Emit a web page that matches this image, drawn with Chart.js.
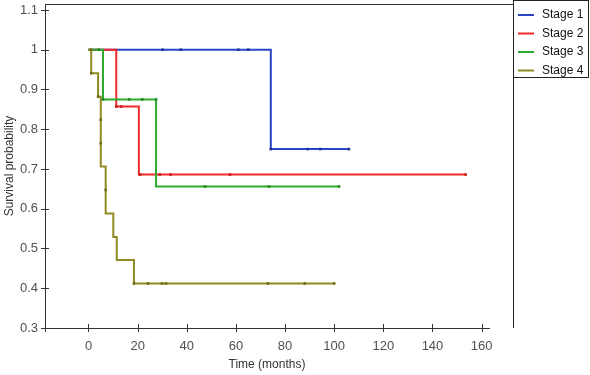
<!DOCTYPE html>
<html>
<head>
<meta charset="utf-8">
<script src="https://cdn.jsdelivr.net/npm/chart.js@4.4.1/dist/chart.umd.min.js"></script>
<style>
  html, body { margin: 0; padding: 0; background: #fff; }
  #wrap { width: 590px; height: 375px; }
</style>
</head>
<body>
<div id="wrap"><canvas id="km"></canvas></div>
<script>
// Kaplan-Meier step points (time in months, survival probability)
const stage1Time = [0, 74.2, 106];
const stage1Surv = [1, 0.75, 0.75];
const stage2Time = [0, 11.3, 20.5, 153.5];
const stage2Surv = [1, 0.857, 0.686, 0.686];
const stage3Time = [0, 5.9, 27.5, 102];
const stage3Surv = [1, 0.875, 0.656, 0.656];
const stage4Time = [0, 1.1, 3.9, 5.0, 7.0, 10.1, 11.5, 18.5, 100];
const stage4Surv = [1, 0.941, 0.882, 0.706, 0.588, 0.529, 0.471, 0.412, 0.412];

// observation markers
const stage1MarkT = [30.2, 37.6, 61, 65, 74.2, 89.2, 94.3, 106];
const stage1MarkS = [1, 1, 1, 1, 0.75, 0.75, 0.75, 0.75];
const stage2MarkT = [11.3, 13.3, 21, 29, 33.4, 57.6, 153.5];
const stage2MarkS = [0.857, 0.857, 0.686, 0.686, 0.686, 0.686, 0.686];
const stage3MarkT = [4.2, 5.9, 16.6, 21.9, 27.5, 47.4, 73.4, 102];
const stage3MarkS = [1, 0.875, 0.875, 0.875, 0.875, 0.656, 0.656, 0.656];
const stage4MarkT = [0.9, 1.1, 3.9, 5.0, 5.0, 7.0, 18.5, 24.2, 29.9, 31.5, 73, 88, 100];
const stage4MarkS = [1, 0.941, 0.882, 0.824, 0.765, 0.647, 0.412, 0.412, 0.412, 0.412, 0.412, 0.412, 0.412];

const labels = ['Stage 1', 'Stage 2', 'Stage 3', 'Stage 4'];
const xTicks = [0, 20, 40, 60, 80, 100, 120, 140, 160];
const yTicks = [0.3, 0.4, 0.5, 0.6, 0.7, 0.8, 0.9, 1, 1.1];

const colors = ['#2a44c4', '#ee2a2a', '#2eaa2e', '#8f8a22'];
const markColors = ['#1c2f96', '#c81a1a', '#1f8a1f', '#6f6a14'];

const pts = (t, s) => t.map((v, i) => ({ x: v, y: s[i] }));
const curves = [[stage1Time, stage1Surv], [stage2Time, stage2Surv], [stage3Time, stage3Surv], [stage4Time, stage4Surv]];
const marks = [[stage1MarkT, stage1MarkS], [stage2MarkT, stage2MarkS], [stage3MarkT, stage3MarkS], [stage4MarkT, stage4MarkS]];

const datasets = [];
curves.forEach((c, i) => {
  datasets.push({
    label: labels[i],
    data: pts(c[0], c[1]),
    borderColor: colors[i],
    backgroundColor: colors[i],
    borderWidth: 2,
    showLine: true,
    stepped: 'before',
    pointRadius: 0,
    fill: false,
    order: 8 - i
  });
});
marks.forEach((m, i) => {
  datasets.push({
    label: labels[i] + ' obs',
    data: pts(m[0], m[1]),
    showLine: false,
    pointStyle: 'rect',
    pointRadius: 1.8,
    borderWidth: 0,
    backgroundColor: markColors[i],
    order: 4 - i
  });
});

const frameTicks = {
  id: 'frameTicks',
  afterDraw(chart) {
    const { ctx, chartArea: a, scales } = chart;
    ctx.save();
    ctx.strokeStyle = '#333';
    ctx.lineWidth = 1;
    ctx.beginPath();
    // top frame line running to the legend
    ctx.moveTo(a.left, a.top + 0.5);
    ctx.lineTo(513, a.top + 0.5);
    ctx.stroke();
    // crossing tick marks
    ctx.beginPath();
    scales.y.ticks.forEach(t => {
      const y = Math.round(scales.y.getPixelForValue(t.value)) + 0.5;
      ctx.moveTo(a.left - 4, y);
      ctx.lineTo(a.left + 4, y);
    });
    scales.x.ticks.forEach(t => {
      const x = Math.round(scales.x.getPixelForValue(t.value)) + 0.5;
      ctx.moveTo(x, a.bottom - 4);
      ctx.lineTo(x, a.bottom + 4);
    });
    ctx.moveTo(a.left + 0.5, a.bottom - 4);
    ctx.lineTo(a.left + 0.5, a.bottom + 4);
    ctx.stroke();

    // legend box
    const lx = 513, ly = 0, lw = 75, lh = 77;
    ctx.strokeStyle = '#222';
    ctx.strokeRect(lx + 0.5, ly + 0.5, lw, lh);
    ctx.beginPath();
    ctx.moveTo(lx + 0.5, ly + lh);
    ctx.lineTo(lx + 0.5, a.bottom);
    ctx.stroke();
    ctx.font = '12px "Liberation Sans", Arial, sans-serif';
    ctx.textBaseline = 'middle';
    ctx.fillStyle = '#111';
    labels.forEach((lab, i) => {
      const y = 15 + i * 18.5;
      ctx.strokeStyle = colors[i];
      ctx.lineWidth = 2;
      ctx.beginPath();
      ctx.moveTo(518, y);
      ctx.lineTo(534, y);
      ctx.stroke();
      ctx.fillText(lab, 542, y);
    });
    ctx.restore();
  }
};

const tickFont = { family: '"Liberation Sans", Arial, sans-serif', size: 13 };
const titleFont = { family: '"Liberation Sans", Arial, sans-serif', size: 12 };

new Chart(document.getElementById('km'), {
  type: 'scatter',
  data: { datasets },
  plugins: [frameTicks],
  options: {
    responsive: true,
    maintainAspectRatio: false,
    animation: false,
    layout: { padding: { top: 3, right: 101, left: 0, bottom: 0 } },
    plugins: { legend: { display: false }, tooltip: { enabled: false } },
    scales: {
      x: {
        type: 'linear',
        min: -17.7,
        max: 163,
        grid: { display: false, drawTicks: false },
        border: { display: true, color: '#333', width: 1 },
        afterBuildTicks: s => { s.ticks = xTicks.map(v => ({ value: v })); },
        afterFit: s => { s.height = 47; s.paddingLeft = 0; s.paddingRight = 0; },
        ticks: { color: '#505050', font: tickFont, padding: 11, maxRotation: 0, callback: v => String(v) },
        title: { display: true, text: 'Time (months)', color: '#333', font: titleFont, padding: { top: 0, bottom: 3 } }
      },
      y: {
        type: 'linear',
        min: 0.3,
        max: 1.115,
        grid: { display: false, drawTicks: false },
        border: { display: true, color: '#333', width: 1 },
        afterBuildTicks: s => { s.ticks = yTicks.map(v => ({ value: v })); },
        afterFit: s => { s.width = 45; s.paddingTop = 0; s.paddingBottom = 0; },
        ticks: { color: '#505050', font: tickFont, padding: 7, callback: v => String(+v.toFixed(2)) },
        title: { display: true, text: 'Survival probability', color: '#333', font: titleFont, padding: { top: 2, bottom: 0 } }
      }
    }
  }
});
</script>
</body>
</html>
